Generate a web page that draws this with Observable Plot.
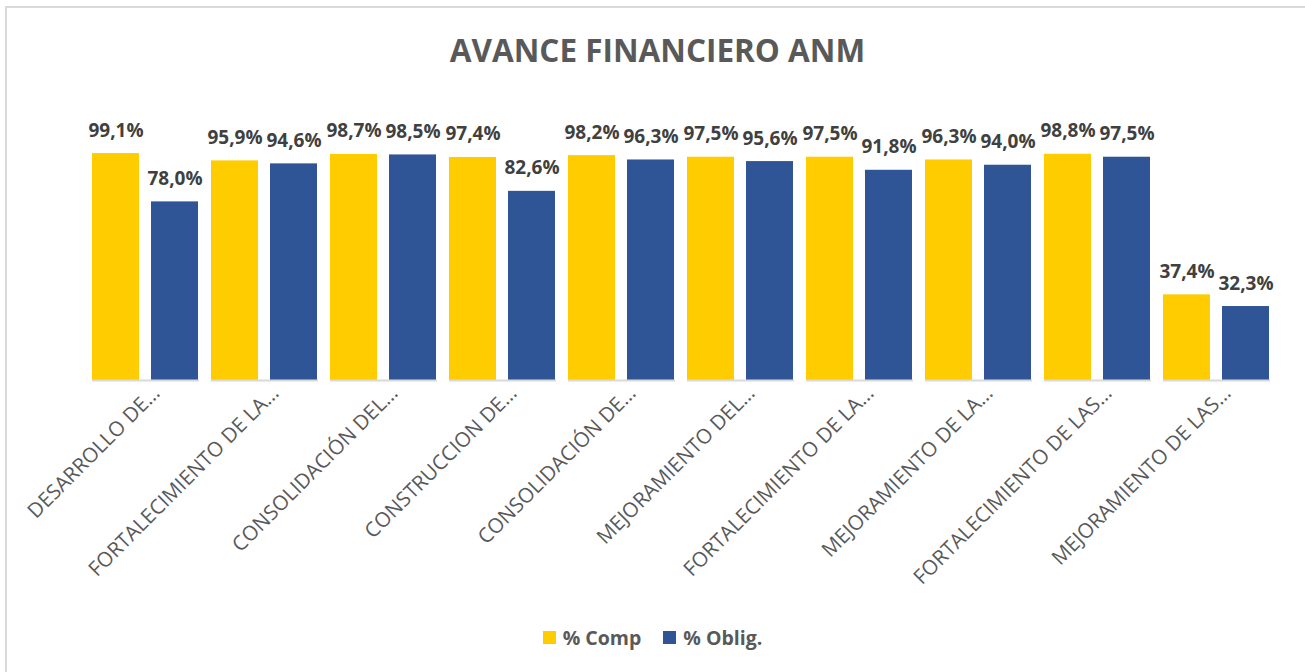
<!DOCTYPE html>
<html>
<head>
<meta charset="utf-8">
<script src="https://cdn.jsdelivr.net/npm/d3@7"></script>
<script src="https://cdn.jsdelivr.net/npm/@observablehq/plot@0.6"></script>
<style>
  html, body { margin: 0; padding: 0; background: #fff; }
  body { width: 1305px; height: 672px; overflow: hidden; position: relative; font-family: "Open Sans", sans-serif; }
  #frame { position: absolute; left: 5px; top: 6px; width: 1400px; height: 800px; border-left: 2px solid #d9d9d9; border-top: 2px solid #d9d9d9; box-sizing: border-box; }
  #title { position: absolute; left: 5px; width: 1305px; top: 26px; text-align: center; font-weight: 700; font-size: 31.5px; color: #595959; line-height: 48px; margin: 0; }
  #chart { position: absolute; left: 0; top: 0; }
  #legend { position: absolute; left: 0; width: 1305px; top: 624px; display: flex; justify-content: center; gap: 22px; font-weight: 700; font-size: 19.5px; color: #595959; }
  .item { display: flex; align-items: center; gap: 7px; }
  .sw { width: 13px; height: 13px; display: inline-block; }
</style>
</head>
<body>
<div id="frame"></div>
<h1 id="title">AVANCE FINANCIERO ANM</h1>
<div id="chart"></div>
<div id="legend"></div>
<script>
const categories = [
  "DESARROLLO DE…",
  "FORTALECIMIENTO DE LA…",
  "CONSOLIDACIÓN DEL…",
  "CONSTRUCCION DE…",
  "CONSOLIDACIÓN DE…",
  "MEJORAMIENTO DEL…",
  "FORTALECIMIENTO DE LA…",
  "MEJORAMIENTO DE LA…",
  "FORTALECIMIENTO DE LAS…",
  "MEJORAMIENTO DE LAS…"
];
const seriesNames = ["% Comp", "% Oblig."];
const seriesColors = ["#FFCC00", "#2F5597"];
const compValues = [99.1, 95.9, 98.7, 97.4, 98.2, 97.5, 97.5, 96.3, 98.8, 37.4];
const obligValues = [78.0, 94.6, 98.5, 82.6, 96.3, 95.6, 91.8, 94.0, 97.5, 32.3];

const rows = [];
categories.forEach((c, i) => {
  rows.push({i, cat: c, series: seriesNames[0], value: compValues[i]});
  rows.push({i, cat: c, series: seriesNames[1], value: obligValues[i]});
});
const catRows = categories.map((c, i) => ({i, cat: c}));
const fmt = v => v.toFixed(1).replace(".", ",") + "%";

const plot = Plot.plot({
  width: 1305,
  height: 620,
  marginLeft: 85,
  marginRight: 27,
  marginTop: 151,
  marginBottom: 240,
  style: {fontFamily: "'Open Sans', sans-serif", background: "transparent", overflow: "visible"},
  fx: {domain: d3.range(categories.length), paddingInner: 0.1, paddingOuter: 0.05, axis: null, label: null},
  x: {domain: seriesNames, paddingInner: 0.2, paddingOuter: 0, axis: null},
  y: {domain: [0, 100], axis: null},
  color: {domain: seriesNames, range: seriesColors},
  marks: [
    Plot.barY(rows, {fx: "i", x: "series", y: "value", fill: "series"}),
    Plot.ruleY([0], {stroke: "#d9d9d9", strokeWidth: 2}),
    Plot.text(rows, {fx: "i", x: "series", y: "value", text: d => fmt(d.value), lineAnchor: "bottom", dy: -17, fontWeight: 700, fontSize: 19, fill: "#404040"}),
    Plot.text(catRows, {fx: "i", frameAnchor: "bottom", text: "cat", rotate: -45, textAnchor: "end", dx: 15, dy: 14, fontSize: 20.5, fill: "#595959"})
  ]
});
document.getElementById("chart").appendChild(plot);

const legend = document.getElementById("legend");
seriesNames.forEach((s, k) => {
  const it = document.createElement("div");
  it.className = "item";
  const sw = document.createElement("span");
  sw.className = "sw";
  sw.style.background = seriesColors[k];
  const t = document.createElement("span");
  t.textContent = s;
  it.appendChild(sw); it.appendChild(t);
  legend.appendChild(it);
});
</script>
</body>
</html>
